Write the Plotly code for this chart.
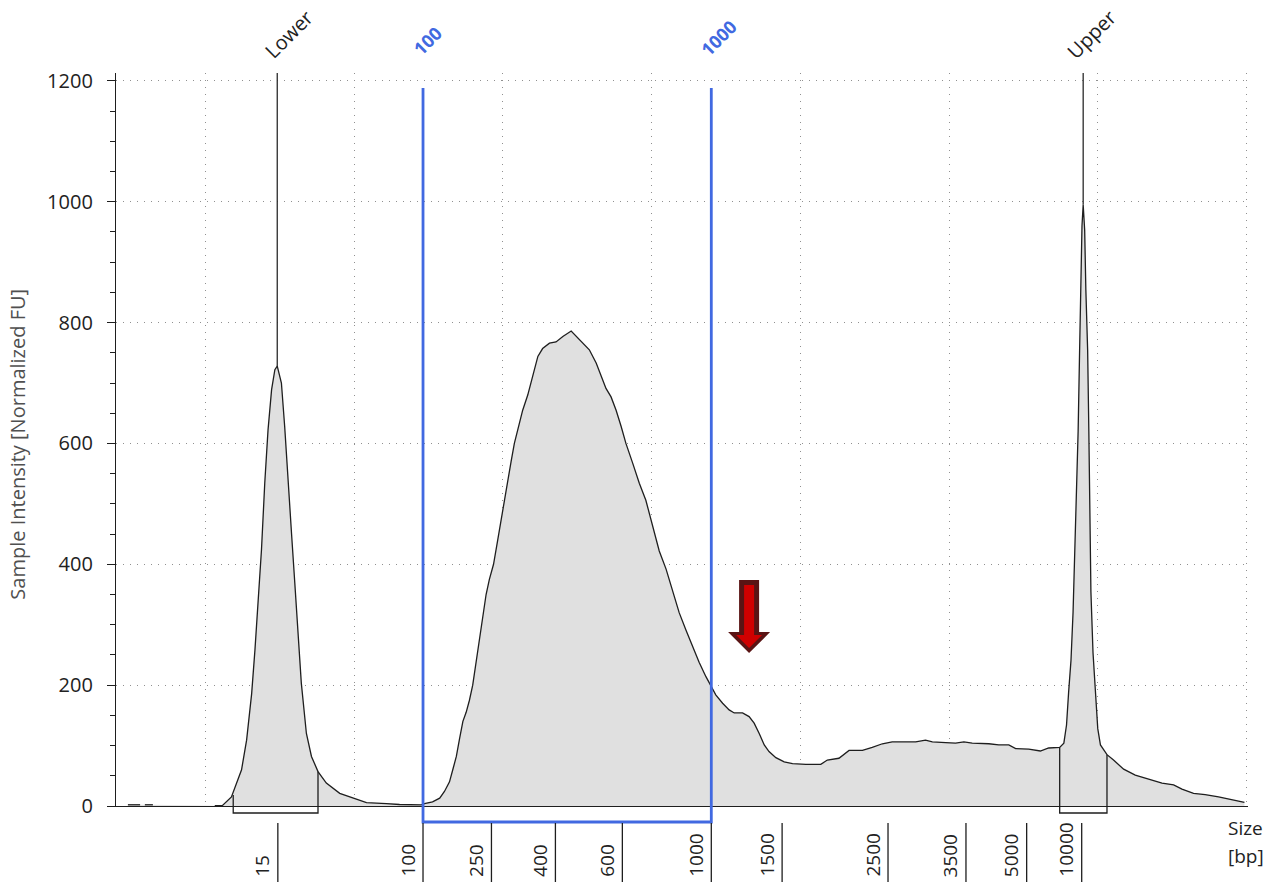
import plotly.graph_objects as go

# ---------------- data ----------------
time_s = [
    17.40, 17.81, None, 17.97, 18.24, None,
    20.32, 20.58, 20.88, 21.05, 21.22, 21.39, 21.56, 21.67, 21.78, 21.89,
    22.00, 22.11, 22.23, 22.34, 22.42, 22.56, 22.67, 22.78, 22.90, 23.01,
    23.12, 23.23, 23.40, 23.57, 23.79, 24.07, 24.52, 24.97, 25.42, 26.09,
    26.53, 27.26,
    27.37, 27.64, 27.88, 28.04, 28.21, 28.32, 28.44, 28.55, 28.66, 28.77,
    28.88, 28.99, 29.11, 29.22, 29.33, 29.44, 29.55, 29.69, 29.83, 30.00,
    30.17, 30.28, 30.39, 30.53, 30.67, 30.84, 31.01, 31.18, 31.34, 31.57,
    31.79, 32.02, 32.30,
    32.47, 32.69, 32.91, 33.14, 33.30, 33.47, 33.64, 33.81, 33.98, 34.14,
    34.37, 34.59, 34.81, 35.04, 35.26, 35.49, 35.71, 35.93, 36.16, 36.38,
    36.60, 36.83, 37.01, 37.16, 37.39, 37.61, 37.78, 38.06, 38.28, 38.45,
    38.62, 38.79, 38.95, 39.18, 39.46, 39.74, 40.19, 40.69, 40.91, 41.30,
    41.64, 42.09, 42.42, 42.76, 43.09, 43.49, 43.88, 44.21, 44.44, 44.89,
    45.22, 45.50, 45.78, 46.34, 46.67, 47.01, 47.24, 47.68, 48.07, 48.35,
    48.72, 48.86, 48.95, 49.02, 49.10, 49.17, 49.23, 49.28, 49.34, 49.39,
    49.44, 49.47, 49.51, 49.56, 49.60, 49.66, 49.70, 49.73, 49.77, 49.84,
    49.92, 50.00, 50.09, 50.31, 50.53, 50.87, 51.26, 51.71, 52.16, 52.55,
    52.83, 53.22, 53.61, 54.06, 54.51, 54.93,
]
intensity_fu = [
    2, 2, None, 2, 2, None,
    0.5, 1, 15, 37, 60, 109, 186, 258, 341, 424,
    534, 622, 689, 722, 728, 700, 628, 534, 451, 369,
    286, 203, 120, 82, 57, 38, 21, 13, 5.5, 4,
    2.5, 2,
    4, 7, 13, 24, 40, 60, 82, 112, 140, 155,
    175, 200, 240, 280, 318, 350, 375, 400, 440, 490,
    545, 570, 600, 630, 655, 680, 711, 744, 757, 766,
    768, 777, 786,
    777, 766, 755, 733, 711, 691, 677, 655, 628, 600,
    567, 534, 506, 462, 422, 392, 355, 320, 291, 264,
    238, 214, 198, 184, 170, 159, 154, 154, 148, 137,
    120, 101, 90, 80, 73, 70, 69, 69, 76, 79,
    92, 92, 97, 103, 106, 106, 106, 109, 106, 105,
    104, 106, 104, 103, 101, 101, 95, 94, 91, 96,
    97, 104, 134, 188, 241, 321, 421, 521, 620, 754,
    887, 960, 995, 953, 854, 754, 620, 487, 354, 254,
    188, 128, 101, 85, 76, 61, 51, 45, 38, 35,
    28, 21, 19, 15, 10, 6,
]

# size ladder (bp) and their migration times
bp_labels = ["15", "100", "250", "400", "600", "1000", "1500", "2500", "3500", "5000", "10000"]
bp_time = [22.44, 27.32, 29.62, 31.77, 34.02, 37.01, 39.39, 42.95, 45.57, 47.61, 49.46]

# markers
marker_names = ["Lower", "Upper"]
marker_time = [22.42, 49.51]
marker_peak = [728, 995]
marker_span_start = [20.94, 48.72]
marker_span_end = [23.79, 50.31]
marker_span_start_fu = [18, 97]
marker_span_end_fu = [57, 85]

# region of interest
region_labels = ["100", "1000"]
region_time = [27.32, 37.01]
region_top_fu = 1188

# highlight arrow
arrow_time = 38.28
arrow_fu = 253

Y_MAX = 1213
X_RANGE = [17, 55.05]

# ---------------- figure ----------------
fig = go.Figure()

fig.add_trace(go.Scatter(
    x=time_s, y=intensity_fu, mode="lines",
    line=dict(color="#1e1e1e", width=1.3),
    fill="tozeroy", fillcolor="#e0e0e0",
    connectgaps=False, hoverinfo="skip", showlegend=False,
))

# marker lines from peak to top
for t, pk in zip(marker_time, marker_peak):
    fig.add_trace(go.Scatter(
        x=[t, t], y=[pk, Y_MAX], mode="lines",
        line=dict(color="#2a2a2a", width=1.3),
        hoverinfo="skip", showlegend=False,
    ))

def py(v):
    return v / Y_MAX

PLOT_H = 733.0
shapes = []

# marker brackets
for a, b, fa, fb in zip(marker_span_start, marker_span_end, marker_span_start_fu, marker_span_end_fu):
    yb = -7 / PLOT_H
    shapes.append(dict(
        type="path", xref="x", yref="paper",
        path=f"M {a},{py(fa)} L {a},{yb} L {b},{yb} L {b},{py(fb)}",
        line=dict(color="#1e1e1e", width=1.3),
    ))

# blue region box
yb = -16 / PLOT_H
shapes.append(dict(
    type="path", xref="x", yref="paper",
    path=(f"M {region_time[0]},{py(region_top_fu)} L {region_time[0]},{yb} "
          f"L {region_time[1]},{yb} L {region_time[1]},{py(region_top_fu)}"),
    line=dict(color="#4169E1", width=2.8),
))

# size ladder separators below axis
for t in bp_time:
    shapes.append(dict(
        type="line", xref="x", yref="paper",
        x0=t, x1=t, y0=-17 / PLOT_H, y1=-0.11,
        line=dict(color="#1e1e1e", width=1.3),
    ))

# red arrow (pixel-sized, anchored at data point)
outer = "M -10,73 L 10,73 L 10,21 L 21,21 L 0,0 L -21,21 L -10,21 Z"
inner = "M -5,68 L 5,68 L 5,18 L 13,18 L 0,5 L -13,18 L -5,18 Z"
for p, col in [(outer, "#5a1414"), (inner, "#d00000")]:
    shapes.append(dict(
        type="path", xref="x", yref="y",
        xsizemode="pixel", ysizemode="pixel",
        xanchor=arrow_time, yanchor=arrow_fu,
        path=p, fillcolor=col, line=dict(width=0),
    ))

fig.update_layout(shapes=shapes)

annotations = []
# size labels
for t, lab in zip(bp_time, bp_labels):
    annotations.append(dict(
        x=t, y=-73 / PLOT_H, xref="x", yref="paper",
        text=lab, showarrow=False, textangle=-90,
        xanchor="center", yanchor="bottom", xshift=-16,
        font=dict(family="Open Sans", size=19, color="#222222"),
    ))

# marker labels
for t, name, dx in zip(marker_time, marker_names, [11, 8]):
    annotations.append(dict(
        x=t, y=1.053, xref="x", yref="paper",
        text=name, showarrow=False, textangle=-45,
        xanchor="center", yanchor="middle", xshift=dx,
        font=dict(family="Open Sans", size=20, color="#222222"),
    ))
for t, lab, dx, yy in zip(region_time, region_labels, [4, 7], [1.044, 1.048]):
    annotations.append(dict(
        x=t, y=yy, xref="x", yref="paper",
        text=f"<b>{lab}</b>", showarrow=False, textangle=-45,
        xanchor="center", yanchor="middle", xshift=dx,
        font=dict(family="Open Sans", size=18, color="#4169E1"),
    ))

# axis titles
annotations.append(dict(
    x=-98 / 1132, y=0.493, xref="paper", yref="paper",
    text="Sample Intensity [Normalized FU]", showarrow=False, textangle=-90,
    xanchor="center", yanchor="middle",
    font=dict(family="Open Sans", size=20, color="#505050"),
))
annotations.append(dict(
    x=(1226 - 116) / 1132, y=-22 / PLOT_H, xref="paper", yref="paper",
    text="Size", showarrow=False, xanchor="left", yanchor="middle",
    font=dict(family="Open Sans", size=19, color="#222222"),
))
annotations.append(dict(
    x=(1226 - 116) / 1132, y=-50 / PLOT_H, xref="paper", yref="paper",
    text="[bp]", showarrow=False, xanchor="left", yanchor="middle",
    font=dict(family="Open Sans", size=19, color="#222222"),
))
fig.update_layout(annotations=annotations)

fig.update_layout(
    width=1265, height=882,
    margin=dict(l=116, r=17, t=73, b=76),
    paper_bgcolor="white", plot_bgcolor="white",
    showlegend=False,
    xaxis=dict(
        range=X_RANGE, tick0=20, dtick=5,
        showticklabels=False, ticks="",
        showgrid=True, gridcolor="#909090", griddash="1px,6px", gridwidth=1,
        zeroline=False, showline=True, linecolor="#1e1e1e", linewidth=1.3,
    ),
    yaxis=dict(
        range=[0, Y_MAX], tick0=0, dtick=200,
        ticks="outside", ticklen=8, tickcolor="#1e1e1e", tickwidth=1.3,
        ticklabelstandoff=10,
        tickfont=dict(family="Open Sans", size=20, color="#222222"),
        showgrid=True, gridcolor="#909090", griddash="1px,6px", gridwidth=1,
        zeroline=False, showline=True, linecolor="#1e1e1e", linewidth=1.3,
        minor=dict(dtick=50, tick0=0, ticks="outside", ticklen=5,
                   tickcolor="#1e1e1e", tickwidth=1.3, showgrid=False),
    ),
)

fig.write_html(
    "out.html",
    config={"displayModeBar": False},
    post_script="document.body.style.margin='0';document.body.style.overflow='hidden';",
)
